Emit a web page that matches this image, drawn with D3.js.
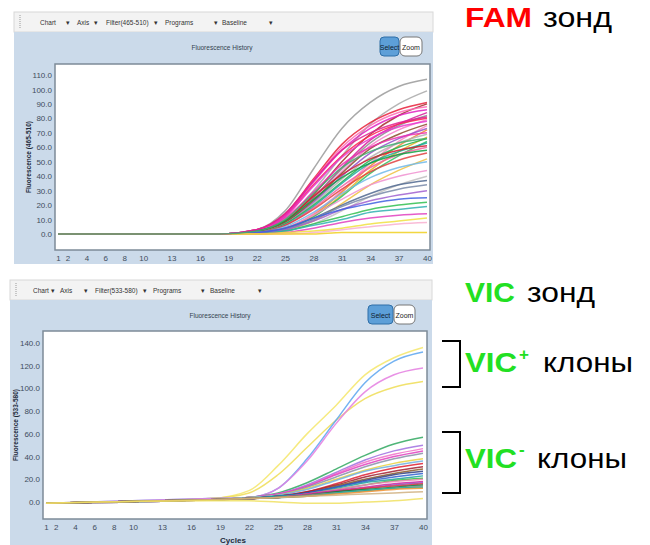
<!DOCTYPE html>
<html lang="en"><head>
<meta charset="utf-8">
<title>FAM / VIC fluorescence history</title>
<script src="https://cdnjs.cloudflare.com/ajax/libs/d3/7.8.5/d3.min.js"></script>
<style>
  body { margin: 0; background: #fff; }
  svg text { font-family: "Liberation Sans", Arial, sans-serif; }
  .tick text { fill: #3f4d5d; font-size: 8px; }
  .menu { font-size: 6.5px; fill: #333; }
</style>
</head>
<body>
<svg id="chart" width="650" height="545"></svg>
<script>
const cycles = [1, 18, 22, 25, 28, 31, 34, 37, 40]
const cycleTicks = [1, 2, 4, 6, 8, 10, 13, 16, 19, 22, 25, 28, 31, 34, 37, 40]
const famTicks = [0, 10, 20, 30, 40, 50, 60, 70, 80, 90, 100, 110]
const vicTicks = [0, 20, 40, 60, 80, 100, 120, 140]
const menuItems = ["Chart", "Axis", "Filter", "Programs", "Baseline"]

// FAM (465-510) curves
const famColors = [
  "#9a9a9a", "#a8a8a8", "#e8203a", "#a52a2a", "#ff69b4", "#e020c0", "#d81b9c", "#8c8c8c",
  "#ff2050", "#f57cc8", "#e838d0", "#8b4a2b", "#ff80c0", "#9050c8", "#f08a30", "#ee30b0",
  "#b0b0b0", "#e8b020", "#20b050", "#30c060", "#20a8a0", "#d02030", "#f060a0", "#10a040",
  "#e04040", "#f0c040", "#70b8e8", "#f090d0", "#c0c0c0", "#506890", "#7888a8", "#a060d0",
  "#4060e0", "#30c050", "#30b0b0", "#e040c0", "#f0e040", "#f8b0d0", "#f0d020", "#e02090",
  "#40b070"
]
const famValues = [
  [0, 0, 3, 16, 45, 73, 91, 102, 107],
  [0, 0, 2, 10, 30, 54, 76, 90, 99],
  [0, 0, 3, 14, 38, 62, 77, 86, 91],
  [0, 0, 2, 9, 27, 50, 69, 82, 90],
  [0, 0, 3, 13, 37, 60, 75, 84, 88],
  [0, 0, 3, 13, 36, 58, 73, 82, 86],
  [0, 0, 2, 8, 25, 46, 65, 76, 84],
  [0, 0, 2, 8, 25, 45, 63, 75, 82],
  [0, 0, 2, 12, 34, 54, 68, 76, 80],
  [0, 0, 2, 8, 24, 43, 61, 72, 79],
  [0, 0, 2, 12, 33, 53, 66, 74, 78],
  [0, 0, 2, 8, 23, 42, 59, 69, 76],
  [0, 0, 1, 4, 14, 30, 49, 64, 75],
  [0, 0, 1, 7, 22, 40, 56, 66, 73],
  [0, 0, 1, 4, 13, 29, 47, 61, 72],
  [0, 0, 2, 11, 29, 48, 60, 67, 70],
  [0, 0, 1, 7, 21, 38, 53, 63, 69],
  [0, 0, 1, 3, 12, 27, 44, 57, 67],
  [0, 0, 1, 7, 20, 36, 51, 60, 66],
  [0, 0, 1, 3, 12, 26, 42, 54, 64],
  [0, 0, 1, 6, 19, 35, 49, 57, 63],
  [0, 0, 2, 9, 26, 41, 52, 58, 61],
  [0, 0, 1, 6, 18, 33, 46, 55, 60],
  [0, 0, 2, 9, 24, 39, 49, 55, 58],
  [0, 0, 1, 6, 17, 31, 43, 51, 56],
  [0, 0, 1, 3, 9, 21, 34, 44, 52],
  [0, 0, 1, 5, 15, 28, 39, 46, 50],
  [0, 0, 1, 4, 13, 24, 34, 40, 44],
  [0, 0, 0, 2, 7, 16, 26, 34, 40],
  [0, 0, 1, 4, 11, 20, 28, 34, 37],
  [0, 0, 1, 3, 10, 19, 26, 31, 34],
  [0, 0, 1, 3, 9, 17, 23, 27, 30],
  [0, 0, 1, 4, 11, 17, 21, 24, 25],
  [0, 0, 0, 2, 7, 12, 17, 20, 22],
  [0, 0, 0, 2, 6, 10, 15, 17, 19],
  [0, 0, 0, 1, 4, 8, 11, 13, 14],
  [0, 0, 0, 1, 2, 4, 7, 9, 11],
  [0, 0, 0, 0, 1, 3, 5, 7, 8],
  [0, 0, 0, 0, 0, 1, 1, 1, 1],
  [0, 0, 3, 14, 37, 58, 70, 77, 81],
  [0, 0, 2, 10, 28, 46, 57, 63, 66]
]

// VIC (533-580) curves
const vicColors = [
  "#f5e66a", "#eedd55", "#5aa4f0", "#e47ee0",
  "#30a860", "#a070e0", "#f070c8", "#e040c0", "#8890a8", "#e8d040", "#70b0e0", "#e02030",
  "#a02030", "#8b5a2b", "#304080", "#3060d0", "#20a0a0", "#30c040", "#f080b0", "#d020a0",
  "#9050c0", "#e83040", "#108040", "#909090", "#20b0a0", "#f09030", "#d0b080", "#f0e060"
]
const vicValues = [
  [-1, 3, 10, 32, 60, 85, 112, 127, 136],
  [-1, 3, 8, 24, 48, 72, 91, 101, 106],
  [-1, 3, 4, 12, 38, 72, 105, 124, 132],
  [-1, 3, 4, 12, 36, 69, 97, 112, 118],
  [-1, 2, 4, 8, 17, 29, 41, 51, 57],
  [-1, 2, 4, 7, 15, 26, 37, 45, 50],
  [-1, 2, 4, 7, 14, 25, 35, 42, 47],
  [-1, 2, 4, 7, 14, 24, 33, 40, 45],
  [-1, 2, 4, 6, 13, 22, 31, 38, 43],
  [-1, 2, 4, 6, 12, 20, 28, 34, 38],
  [-1, 2, 4, 6, 11, 19, 27, 32, 36],
  [-1, 2, 3, 5, 9, 16, 24, 30, 34],
  [-1, 2, 3, 5, 9, 15, 22, 27, 31],
  [-1, 2, 3, 5, 8, 14, 20, 25, 29],
  [-1, 2, 3, 5, 8, 13, 19, 24, 27],
  [-1, 2, 3, 5, 8, 13, 18, 22, 25],
  [-1, 2, 3, 5, 7, 12, 17, 20, 23],
  [-1, 2, 3, 4, 7, 11, 15, 19, 21],
  [-1, 2, 3, 4, 7, 11, 15, 18, 20],
  [-1, 2, 3, 4, 7, 10, 13, 16, 18],
  [-1, 2, 3, 4, 6, 9, 12, 15, 17],
  [-1, 2, 3, 4, 6, 9, 12, 14, 16],
  [-1, 2, 3, 4, 6, 9, 11, 13, 15],
  [-1, 2, 3, 4, 6, 8, 10, 12, 14],
  [-1, 2, 3, 4, 5, 8, 10, 12, 13],
  [-1, 2, 3, 4, 5, 7, 9, 11, 12],
  [-1, 2, 3, 4, 5, 6, 7, 8, 9],
  [-1, 1, 1, 0, -1, -1, 0, 1, 3]
]

// small stand-in for d3-selection-multi
d3.selection.prototype.attrs = function(obj) {
  Object.keys(obj).forEach(k => this.attr(k, obj[k]))
  return this
}

const svg = d3.select("#chart")

function panel(opts) {
  let g = svg.append("g")

  // toolbar strip
  g.append("rect")
    .attrs({ x: opts.left, y: opts.barTop, width: opts.right - opts.left, height: 20, fill: "#f3f3f3", stroke: "#d8d8d8" })
  g.append("line")
    .attrs({ x1: opts.left + 6, x2: opts.left + 6, y1: opts.barTop + 3, y2: opts.barTop + 17, stroke: "#999", "stroke-dasharray": "1,1" })
  let mx = opts.menuX
  menuItems.forEach((m, i) => {
    let label = m == "Filter" ? opts.filter : m
    g.append("text").attr("class", "menu")
      .attrs({ x: mx[i], y: opts.barTop + 12.5 }).text(label)
    g.append("text").attr("class", "menu")
      .attrs({ x: mx[i] + opts.arrowGap[i], y: opts.barTop + 12.5 }).text("\u25BE")
  })

  // blue panel
  g.append("rect")
    .attrs({ x: opts.left, y: opts.barTop + 20, width: opts.right - opts.left, height: opts.bottom - opts.barTop - 20, fill: "#cbdaea" })
  g.append("text")
    .attrs({ x: opts.titleX, y: opts.barTop + 38, "text-anchor": "middle", "font-size": 6.5, fill: "#34424f" })
    .text("Fluorescence History")

  // Select / Zoom buttons
  let b = opts.btn
  g.append("rect").attrs({ x: b[0], y: b[1], width: b[2], height: 19, rx: 4, fill: "#5d9fd8", stroke: "#2f6fa8" })
  g.append("text").attrs({ x: b[0] + b[2] / 2, y: b[1] + 12.5, "text-anchor": "middle", "font-size": 7, fill: "#102030" }).text("Select")
  g.append("rect").attrs({ x: b[0] + b[2] + 1, y: b[1], width: b[3], height: 19, rx: 5, fill: "#fff", stroke: "#777" })
  g.append("text").attrs({ x: b[0] + b[2] + 1 + b[3] / 2, y: b[1] + 12.5, "text-anchor": "middle", "font-size": 7, fill: "#222" }).text("Zoom")

  // plot box
  let p = opts.plot
  g.append("rect")
    .attrs({ x: p[0], y: p[1], width: p[2] - p[0], height: p[3] - p[1], fill: "#fff", stroke: "#7d8b98", "stroke-width": 1.5 })

  let x = d3.scaleLinear().domain([1, 40]).range(opts.xRange)
  let y = d3.scaleLinear().domain([0, opts.yMax]).range(opts.yRange)

  let clipId = "clip" + opts.barTop
  g.append("clipPath").attr("id", clipId)
    .append("rect").attrs({ x: p[0] + 1, y: p[1] + 1, width: p[2] - p[0] - 2, height: p[3] - p[1] - 2 })

  let line = d3.line()
    .x((d, i) => x(cycles[i]))
    .y(d => y(d))
    .curve(d3.curveMonotoneX)

  g.append("g").attr("clip-path", `url(#${clipId})`)
    .selectAll("path")
    .data(opts.values)
    .enter()
    .append("path")
    .attrs({
      d: d => line(d),
      fill: "none",
      stroke: (d, i) => opts.colors[i],
      "stroke-width": 1.5,
      opacity: 0.85
    })

  let ya = g.append("g")
    .attr("transform", `translate(${p[0] - 1}, 0)`)
    .call(d3.axisLeft(y).tickValues(opts.yTicks).tickFormat(d3.format(".1f")).tickSize(0).tickPadding(2))
  ya.select(".domain").remove()

  let xa = g.append("g")
    .attr("transform", `translate(0, ${p[3] + 3})`)
    .call(d3.axisBottom(x).tickValues(cycleTicks).tickSize(0).tickPadding(2))
  xa.select(".domain").remove()

  g.append("text")
    .attrs({
      transform: `translate(${opts.yLabelX}, ${(p[1] + p[3]) / 2}) rotate(-90)`,
      "text-anchor": "middle", "font-size": 6.5, "font-weight": "bold", fill: "#1e2a3a"
    })
    .text(opts.yLabel)
  return { x, y }
}

panel({
  left: 14, right: 433, barTop: 12, bottom: 264,
  menuX: [40, 77, 106, 165, 222], arrowGap: [26, 17, 48, 49, 47],
  filter: "Filter(465-510)", titleX: 222, btn: [380, 37, 19, 22],
  plot: [55, 64, 430, 250], xRange: [58, 427], yMax: 110, yRange: [234, 75],
  values: famValues, colors: famColors, yTicks: famTicks,
  yLabel: "Fluorescence (465-510)", yLabelX: 31
})

panel({
  left: 10, right: 432, barTop: 280, bottom: 545,
  menuX: [33, 60, 95, 153, 210], arrowGap: [18, 24, 48, 48, 48],
  filter: "Filter(533-580)", titleX: 220, btn: [368, 305, 25, 21],
  plot: [43, 331, 427, 519], xRange: [46, 423], yMax: 140, yRange: [502, 343],
  values: vicValues, colors: vicColors, yTicks: vicTicks,
  yLabel: "Fluorescence (533-580)", yLabelX: 18
})

svg.append("text")
  .attrs({ x: 233, y: 543, "text-anchor": "middle", "font-size": 8, "font-weight": "bold", fill: "#1e2a3a" })
  .text("Cycles")

// annotations on the right
function label(x, y, bold, color, text, len) {
  return svg.append("text")
    .attrs({ x, y, "font-size": 28, "font-weight": bold ? "bold" : "normal", fill: color, textLength: len, lengthAdjust: "spacingAndGlyphs" })
    .text(text)
}
label(465, 27, true, "#ff0000", "FAM", 67)
label(543, 27, false, "#000", "зонд", 69)
label(465, 302, true, "#22e022", "VIC", 50)
label(527, 302, false, "#000", "зонд", 68)
label(465, 372, true, "#22e022", "VIC", 52)
svg.append("text").attrs({ x: 519, y: 360, "font-size": 17, "font-weight": "bold", fill: "#22e022" }).text("+")
label(543, 372, false, "#000", "клоны", 90)
label(465, 468, true, "#22e022", "VIC", 52)
svg.append("text").attrs({ x: 519, y: 455, "font-size": 17, "font-weight": "bold", fill: "#22e022" }).text("-")
label(537, 468, false, "#000", "клоны", 90)

const brackets = [[341, 387], [432, 493]]
svg.selectAll("path.bracket")
  .data(brackets)
  .enter()
  .append("path")
  .attrs({
    class: "bracket",
    d: d => `M442,${d[0]}H460V${d[1]}H442`,
    fill: "none", stroke: "#000", "stroke-width": 2
  })
</script>
</body>
</html>
